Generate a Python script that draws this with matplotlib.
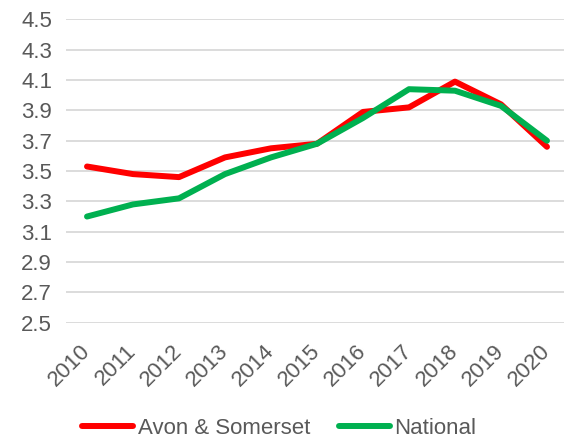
import matplotlib
matplotlib.use("Agg")
import matplotlib.pyplot as plt

years = ["2010", "2011", "2012", "2013", "2014", "2015", "2016", "2017", "2018", "2019", "2020"]
avon = [3.53, 3.48, 3.46, 3.59, 3.65, 3.68, 3.89, 3.92, 4.09, 3.94, 3.66]
national = [3.20, 3.28, 3.32, 3.48, 3.59, 3.68, 3.85, 4.04, 4.03, 3.93, 3.70]
yticks = [2.5, 2.7, 2.9, 3.1, 3.3, 3.5, 3.7, 3.9, 4.1, 4.3, 4.5]

plt.rcParams['font.family'] = ['Liberation Sans', 'DejaVu Sans']
fig = plt.figure(figsize=(5.64, 4.42), dpi=100)
ax = fig.add_axes([0.117, 0.270, 0.883, 0.686])

x = list(range(len(years)))
ax.plot(x, avon, color="#ff0000", lw=4.3, solid_capstyle='round', solid_joinstyle='round', label="Avon & Somerset", zorder=3)
ax.plot(x, national, color="#00b050", lw=4.3, solid_capstyle='round', solid_joinstyle='round', label="National", zorder=4)

ax.set_ylim(2.5, 4.5)
ax.set_xlim(-0.457, 10.37)
ax.set_yticks(yticks)
ax.set_yticklabels([f"{v:.1f}" for v in yticks])
ax.set_xticks(x)
ax.set_xticklabels(years, rotation=45, ha='right', va='center', rotation_mode='anchor')
ax.grid(axis='y', color="#d9d9d9", lw=1.3)
ax.set_axisbelow(True)
for s in ax.spines.values():
    s.set_visible(False)
ax.tick_params(axis='both', length=0, labelsize=16, labelcolor="#595959")
ax.tick_params(axis='x', pad=18)
ax.tick_params(axis='y', pad=10)

fig.legend(loc='lower center', bbox_to_anchor=(0.495, -0.038), ncol=2, frameon=False,
           fontsize=16, labelcolor="#595959", handlelength=2.3, handletextpad=0.2,
           columnspacing=1.3)

fig.savefig("out.png", dpi=100)
